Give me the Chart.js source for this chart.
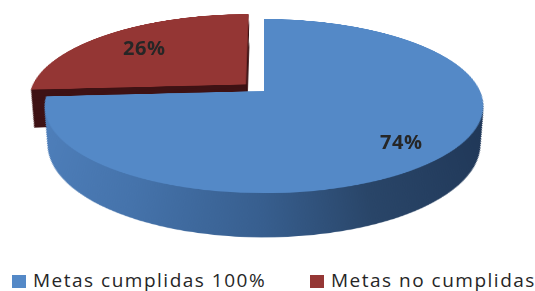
<!DOCTYPE html>
<html>
<head>
<meta charset="utf-8">
<script src="https://cdn.jsdelivr.net/npm/chart.js@4"></script>
<style>
  html, body { margin: 0; padding: 0; background: #fff; }
  body { width: 535px; height: 291px; position: relative; overflow: hidden; font-family: "Open Sans", sans-serif; }
  #pie {
    position: absolute;
    transform-origin: 50% 50%;
  }
  .pct {
    position: absolute;
    transform: translate(-50%, -50%);
    font-weight: bold;
    font-size: 20px;
    letter-spacing: 0.5px;
    color: #262626;
    white-space: nowrap;
  }
  .legend-item { position: absolute; top: 268px; height: 24px; }
  .legend-item .box { position: absolute; left: 0; top: 7px; width: 14px; height: 13px; }
  .legend-item .txt { position: absolute; left: 21px; top: 0; font-size: 19px; letter-spacing: 1.5px; color: #262626; white-space: nowrap; line-height: 24px; }
</style>
</head>
<body>
<canvas id="pie" width="520" height="600"></canvas>
<div id="legend"></div>
<div id="labels"></div>
<script>
// data
const categories = ['Metas cumplidas 100%', 'Metas no cumplidas'];
const values = [74, 26];
const pctLabels = ['74%', '26%'];

const topColors = ['#5489c7', '#943634'];
const legendColors = ['#5489c7', '#953735'];
const labelRadius = [0.79, 0.72];

// 3d look: the canvas lies flat and is tilted with css perspective
const R = 216;          // pie radius in the plane
const DEPTH = 42;       // thickness, along the plane normal
const PERSP = 1151;
const TILT = 66.96;
const APEX = { x: 264, y: 91 };   // where the pie centre lands on screen
const W = 520, H = 600;
const S = Math.sin(TILT * Math.PI / 180), C = Math.cos(TILT * Math.PI / 180);

const cv = document.getElementById('pie');
cv.style.left = (APEX.x - W / 2) + 'px';
cv.style.top = (APEX.y - H / 2) + 'px';
cv.style.transform = 'perspective(' + PERSP + 'px) rotateX(' + TILT + 'deg)';

function project(px, py) {
  // plane coords relative to centre -> screen
  const k = PERSP / (PERSP - S * py);
  return { x: APEX.x + px * k, y: APEX.y + py * C * k };
}

// a point pushed h below the plane, given back as the plane point
// that lands on the same screen spot (so it can be drawn on the canvas)
function sink(cx, cy, h) {
  const px = cx - W / 2, py = cy - H / 2;
  const k = PERSP / (PERSP - (S * py - C * h));
  const X = px * k, Y = (C * py + S * h) * k;
  const y2 = Y * PERSP / (C * PERSP + S * Y);
  const x2 = X * (PERSP - S * y2) / PERSP;
  return [x2 + W / 2, y2 + H / 2];
}

function arcGeom(arc) {
  const p = arc.getProps(['x', 'y', 'startAngle', 'endAngle', 'outerRadius'], true);
  const off = (arc.options.offset || 0) / 4;
  const mid = (p.startAngle + p.endAngle) / 2;
  return {
    x: p.x + Math.cos(mid) * off,
    y: p.y + Math.sin(mid) * off,
    start: p.startAngle, end: p.endAngle, r: p.outerRadius, mid: mid
  };
}

const sidePlugin = {
  id: 'side3d',
  beforeDatasetsDraw(chart) {
    const ctx = chart.ctx;
    const meta = chart.getDatasetMeta(0);
    // back slice first so the front one covers it
    [1, 0].forEach(i => {
      const g = arcGeom(meta.data[i]);
      let fill;
      if (i === 0) {
        fill = ctx.createLinearGradient(g.x - g.r, 0, g.x + g.r, 0);
        fill.addColorStop(0, '#4f80bc');
        fill.addColorStop(0.25, '#4573ab');
        fill.addColorStop(0.5, '#375e8e');
        fill.addColorStop(0.7, '#294568');
        fill.addColorStop(1, '#1f3656');
      } else {
        fill = '#3e1214';
      }
      ctx.save();
      ctx.fillStyle = fill;
      const steps = 90;
      for (let d = DEPTH; d >= 1; d--) {
        ctx.beginPath();
        const a0 = sink(g.x, g.y, d);
        ctx.moveTo(a0[0], a0[1]);
        for (let j = 0; j <= steps; j++) {
          const a = g.start + (g.end - g.start) * j / steps;
          const q = sink(g.x + Math.cos(a) * g.r, g.y + Math.sin(a) * g.r, d);
          ctx.lineTo(q[0], q[1]);
        }
        ctx.closePath();
        ctx.fill();
      }
      ctx.restore();
    });
  },
  afterDraw(chart) {
    const meta = chart.getDatasetMeta(0);
    const box = document.getElementById('labels');
    box.innerHTML = '';
    meta.data.forEach((arc, i) => {
      const g = arcGeom(arc);
      const rr = g.r * labelRadius[i];
      const px = g.x + Math.cos(g.mid) * rr - W / 2;
      const py = g.y + Math.sin(g.mid) * rr - H / 2;
      const pt = project(px, py);
      const el = document.createElement('div');
      el.className = 'pct';
      el.textContent = pctLabels[i];
      el.style.left = pt.x + 'px';
      el.style.top = pt.y + 'px';
      box.appendChild(el);
    });
  }
};

new Chart(cv, {
  type: 'pie',
  data: {
    labels: categories,
    datasets: [{
      data: values,
      backgroundColor: topColors,
      borderWidth: 0,
      offset: [0, 100]
    }]
  },
  options: {
    responsive: false,
    animation: false,
    events: [],
    radius: R,
    layout: { padding: 0 },
    plugins: {
      legend: { display: false },
      tooltip: { enabled: false }
    }
  },
  plugins: [sidePlugin]
});

// legend
const legendPos = [12, 310];
const lg = document.getElementById('legend');
categories.forEach((name, i) => {
  const item = document.createElement('div');
  item.className = 'legend-item';
  item.style.left = legendPos[i] + 'px';
  item.innerHTML = '<div class="box" style="background:' + legendColors[i] + '"></div><div class="txt"></div>';
  item.querySelector('.txt').textContent = name;
  lg.appendChild(item);
});
</script>
</body>
</html>
